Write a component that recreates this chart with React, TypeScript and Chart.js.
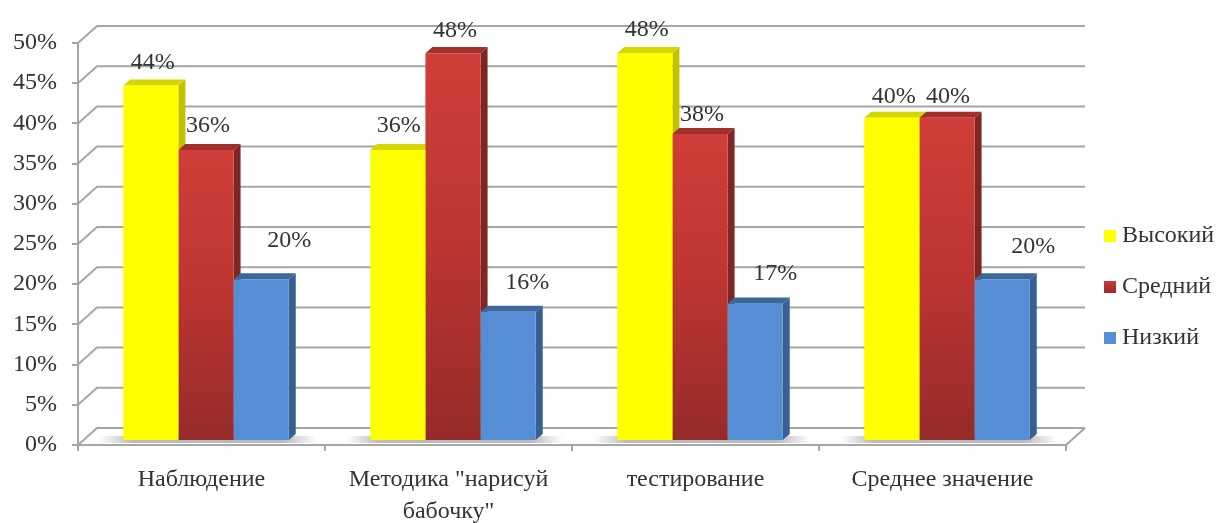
import React, { useEffect, useRef } from "react";
import { Chart, registerables } from "chart.js";

Chart.register(...registerables);

const categories = ["Наблюдение", ['Методика "нарисуй', 'бабочку"'], "тестирование", "Среднее значение"];
const highValues = [44, 36, 48, 40];
const midValues = [36, 48, 38, 40];
const lowValues = [20, 16, 17, 20];
const seriesNames = ["Высокий", "Средний", "Низкий"];
const yTicksMax = 50;
const yTickStep = 5;

const FONT = "'Liberation Serif', 'Times New Roman', serif";
const FONT_SIZE = 24;
const TEXT = "#333333";
const GRID = "#a6a6a6";
const GRID_WIDTH = 2;
const DX = 4.5;
const DEPTH_X = 7;
const DEPTH_Y = 6;
const BACK_X = 19;
const BACK_Y = 17;

const faces = [
  { side: "#c2c200", top: "#d6d600" },
  { side: "#7d2623", top: "#a12f2c" },
  { side: "#376092", top: "#3c679c" },
];

const swatchTop = ["#ffff00", "#cc3c37", "#558ed5"];
const swatchBottom = ["#ffff00", "#942b28", "#558ed5"];

// manual label placement relative to the bar centre/top, one list per series
const labelShift = [
  [[2, -19], [1, -20], [2, -19], [2, -17]],
  [[2, -20], [2, -18], [2, -15], [1, -17]],
  [[28, -33], [19, -24], [20, -25], [31, -27]],
];

const redFill = (ctx: any) => {
  const fallback = "#b5332f";
  if (ctx.type !== "data" || !ctx.chart.scales.y) return fallback;
  const y = ctx.chart.scales.y;
  const a = y.getPixelForValue(ctx.raw);
  const b = y.getPixelForValue(0);
  if (!Number.isFinite(a) || !Number.isFinite(b)) return fallback;
  const g = ctx.chart.ctx.createLinearGradient(0, a, 0, b);
  g.addColorStop(0, "#d03e39");
  g.addColorStop(0.5, "#bb3531");
  g.addColorStop(1, "#952b29");
  return g;
};

const bars3d = {
  id: "bars3d",
  beforeLayout(chart: any) {
    const l = chart.legend;
    if (l && !l.__fitWrapped) {
      const fit = l.fit;
      l.fit = function () { fit.call(this); this.width = 150; };
      l.__fitWrapped = true;
    }
  },
  afterLayout(chart: any) {
    const l = chart.legend;
    l.left += 17; l.right += 17; l.top += 4; l.bottom += 4;
  },
  beforeDatasetsDraw(chart: any) {
    const { ctx, scales } = chart;
    const { x, y } = scales;
    ctx.save();
    ctx.strokeStyle = GRID;
    ctx.lineWidth = GRID_WIDTH;
    y.ticks.forEach((t: any) => {
      const py = y.getPixelForValue(t.value);
      ctx.beginPath();
      ctx.moveTo(x.left, py);
      ctx.lineTo(x.left + BACK_X, py - BACK_Y);
      ctx.lineTo(x.right + BACK_X, py - BACK_Y);
      ctx.stroke();
    });
    const py0 = y.getPixelForValue(0);
    ctx.beginPath();
    ctx.moveTo(x.right, py0);
    ctx.lineTo(x.right + BACK_X, py0 - BACK_Y);
    ctx.stroke();
    // soft floor shadows
    categories.forEach((_, i) => {
      const cx = x.getPixelForValue(i) + DX + 2;
      const g = ctx.createLinearGradient(cx - 108, 0, cx + 108, 0);
      g.addColorStop(0, "rgba(170,170,170,0)");
      g.addColorStop(0.15, "rgba(170,170,170,0.8)");
      g.addColorStop(0.85, "rgba(170,170,170,0.8)");
      g.addColorStop(1, "rgba(170,170,170,0)");
      ctx.fillStyle = g;
      ctx.fillRect(cx - 108, py0 - 9, 216, 7);
    });
    ctx.restore();
    ctx.save();
    ctx.translate(DX, py0 - 4);
    ctx.scale(1, 1.005);
    ctx.translate(0, -py0);
    // side and top faces, left to right, before the front faces are drawn
    chart.data.datasets.forEach((_: any, si: number) => {
      const f = faces[si];
      chart.getDatasetMeta(si).data.forEach((b: any) => {
        const p = b.getProps(["x", "y", "base", "width"], true);
        const l = p.x - p.width / 2;
        const r = p.x + p.width / 2;
        ctx.fillStyle = f.side;
        ctx.beginPath();
        ctx.moveTo(r, p.y);
        ctx.lineTo(r + DEPTH_X, p.y - DEPTH_Y);
        ctx.lineTo(r + DEPTH_X, p.base - DEPTH_Y);
        ctx.lineTo(r, p.base);
        ctx.closePath();
        ctx.fill();
        ctx.fillStyle = f.top;
        ctx.beginPath();
        ctx.moveTo(l, p.y);
        ctx.lineTo(l + DEPTH_X, p.y - DEPTH_Y);
        ctx.lineTo(r + DEPTH_X, p.y - DEPTH_Y);
        ctx.lineTo(r, p.y);
        ctx.closePath();
        ctx.fill();
      });
    });
  },
  afterDatasetsDraw(chart: any) {
    const { ctx } = chart;
    ctx.restore();
    ctx.save();
    ctx.font = `${FONT_SIZE}px ${FONT}`;
    ctx.fillStyle = TEXT;
    ctx.textAlign = "center";
    ctx.textBaseline = "middle";
    chart.data.datasets.forEach((ds: any, si: number) => {
      chart.getDatasetMeta(si).data.forEach((b: any, i: number) => {
        const p = b.getProps(["x", "y"], true);
        const s = labelShift[si][i];
        ctx.fillText(`${ds.data[i]}%`, p.x + DX + s[0], p.y - 4 - DEPTH_Y + s[1]);
      });
    });
    ctx.restore();
  },
  afterDraw(chart: any) {
    const { ctx } = chart;
    ctx.save();
    chart.legend.legendHitBoxes.forEach((h: any, i: number) => {
      const top = h.top + h.height / 2 - 6;
      const g = ctx.createLinearGradient(0, top, 0, top + 12);
      g.addColorStop(0, swatchTop[i]);
      g.addColorStop(1, swatchBottom[i]);
      ctx.fillStyle = g;
      ctx.fillRect(h.left - 6, top, 12, 12);
    });
    ctx.restore();
  },
};

export default function App() {
  const ref = useRef<HTMLCanvasElement>(null);
  useEffect(() => {
    const chart = new Chart(ref.current as HTMLCanvasElement, {
      type: "bar",
      data: {
        labels: categories as any,
        datasets: [
          { label: seriesNames[0], data: highValues, backgroundColor: "#ffff00", clip: false as any },
          { label: seriesNames[1], data: midValues, backgroundColor: redFill as any, clip: false as any },
          { label: seriesNames[2], data: lowValues, backgroundColor: "#558ed5", clip: false as any },
        ],
      },
      plugins: [bars3d as any],
      options: {
        animation: false,
        responsive: false,
        layout: { padding: { top: 43, left: 0, right: 0, bottom: 0 } },
        datasets: { bar: { barPercentage: 1, categoryPercentage: 0.67 } },
        plugins: {
          tooltip: { enabled: false },
          legend: {
            position: "right",
            labels: {
              boxWidth: 0,
              boxHeight: 12,
              padding: 27,
              color: TEXT,
              font: { family: FONT, size: FONT_SIZE },
            },
          },
        },
        scales: {
          x: {
            afterFit: (s: any) => { s.height = 78; },
            grid: { drawOnChartArea: false, tickLength: 6, color: GRID, lineWidth: GRID_WIDTH },
            border: { color: GRID, width: GRID_WIDTH },
            ticks: {
              color: TEXT,
              font: { family: FONT, size: FONT_SIZE, lineHeight: 1.33 },
              padding: 13,
              maxRotation: 0,
              autoSkip: false,
            },
          },
          y: {
            min: 0,
            max: yTicksMax,
            afterFit: (s: any) => { s.width = 78; },
            grid: { drawOnChartArea: false, tickLength: 6, color: GRID, lineWidth: GRID_WIDTH },
            border: { color: GRID, width: GRID_WIDTH },
            ticks: {
              stepSize: yTickStep,
              color: TEXT,
              font: { family: FONT, size: FONT_SIZE },
              padding: 15,
              callback: (v: any) => `${v}%`,
            },
          },
        },
      },
    });
    return () => chart.destroy();
  }, []);
  return (
    <div style={{ position: "absolute", left: 0, top: 0, width: 1216, height: 523, background: "#fff" }}>
      <canvas ref={ref} width={1216} height={523} style={{ display: "block", filter: "blur(0.6px)" }} />
    </div>
  );
}
